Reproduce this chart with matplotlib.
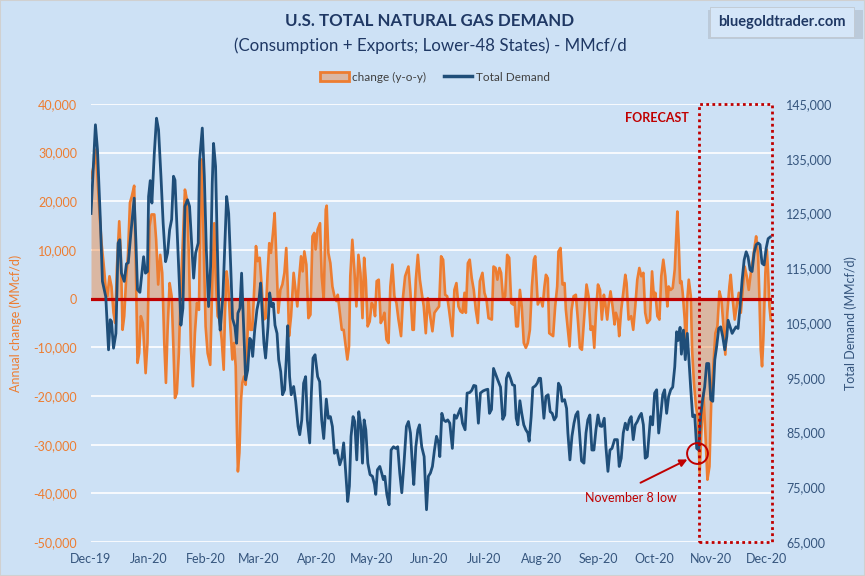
import matplotlib
matplotlib.use("Agg")
import matplotlib.pyplot as plt
from matplotlib.patches import Patch, Rectangle
from matplotlib.lines import Line2D
import pandas as pd

plt.rcParams['font.family'] = ['Lato', 'DejaVu Sans']

# days since 2019-12-01 and values (MMcf/d)
demand_day = [
    0, 2.4, 3.5, 5.0, 6.2, 8.0, 9.5, 10.4, 11.1, 12.2, 13.5, 14.7, 15.6, 16.5, 18.0, 19.2, 20.2, 21.6,
    23.4, 24.3, 25.2, 26.5, 28.5, 29.5, 30.6, 31.2, 32.1, 33.0, 34.3, 35.5, 36.6, 37.9, 39.1, 40.4,
    41.5, 42.6, 43.7, 44.7, 45.5, 46.5, 47.8, 48.7, 49.8, 50.9, 52.3, 53.4, 54.5, 55.6, 56.7, 58.1,
    58.8, 60.3, 61.4, 62.5, 63.7, 64.8, 65.7, 66.4, 67.5, 68.4, 69.3, 70.0, 71.5, 72.6, 73.5, 74.6,
    75.7, 76.7, 78.0, 78.9, 79.6, 80.7, 81.6, 82.5, 83.8, 84.9, 86.0, 86.7, 87.6, 88.7, 89.9, 91.0,
    91.9, 92.8, 93.7, 94.6, 95.9, 96.8, 97.9, 98.8, 99.7, 100.8, 101.7, 102.8, 103.8, 104.9, 105.8,
    106.6, 107.6, 108.5, 109.8, 110.9, 112.2, 113.1, 114.2, 115.2, 116.3, 117.2, 118.5, 119.4, 120.3,
    121.4, 122.8, 123.9, 125.0, 126.1, 127.5, 128.6, 129.7, 130.8, 131.9, 133.3, 134.8, 135.9, 136.9,
    138.0, 139.1, 140.0, 140.9, 142.0, 142.9, 144.0, 145.1, 146.2, 147.1, 148.0, 148.9, 150.0, 151.2,
    152.5, 153.6, 154.3, 155.2, 156.5, 157.5, 158.4, 159.2, 160.3, 161.5, 162.6, 163.9, 165.1, 166.2,
    167.3, 168.4, 169.6, 170.9, 172.0, 173.1, 174.2, 174.9, 176.0, 177.1, 178.0, 179.2, 180.5, 181.8,
    182.8, 183.9, 185.0, 186.1, 187.2, 188.3, 189.0, 190.1, 191.1, 192.2, 193.3, 194.4, 195.8, 196.9,
    198.0, 199.1, 200.2, 201.3, 202.7, 203.8, 205.2, 206.3, 207.4, 208.5, 209.9, 211.0, 212.5, 213.9,
    215.0, 215.9, 217.0, 218.1, 219.4, 220.4, 221.9, 223.1, 224.2, 225.1, 226.2, 227.3, 228.4, 229.5,
    230.4, 231.3, 232.4, 233.4, 234.5, 235.6, 236.7, 237.4, 238.5, 239.4, 240.7, 241.8, 242.8, 243.6,
    244.3, 245.4, 246.5, 247.7, 248.8, 249.9, 251.0, 252.1, 253.3, 254.4, 255.3, 256.6, 257.7, 258.4,
    259.5, 260.6, 261.7, 262.7, 263.8, 264.7, 265.8, 267.1, 268.2, 269.2, 270.3, 271.4, 272.5, 273.6,
    274.7, 275.8, 276.8, 278.1, 279.0, 280.1, 281.2, 282.3, 283.7, 285.2, 286.2, 287.3, 288.4, 289.5,
    290.6, 291.7, 292.7, 293.8, 294.9, 296.0, 297.1, 298.2, 299.3, 300.3, 301.4, 303.2, 304.3, 305.4,
    306.5, 307.6, 308.7, 309.8, 310.8, 311.9, 313.0, 314.1, 315.2, 316.3, 317.3, 318.1, 319.2, 319.9,
    321.0, 322.0, 323.1, 324.2, 324.9, 326.0, 327.1, 328.2, 329.3, 330.4, 331.4, 332.5, 333.6, 334.7,
    335.8, 336.9, 338.0, 339.0, 340.1, 341.2, 342.3, 343.4, 344.5, 345.2, 346.3, 347.4, 348.4, 349.5,
    350.6, 351.7, 352.8, 353.9, 355.0, 356.0, 357.1, 358.2, 359.3, 360.4, 361.5, 362.5, 363.6, 364.7,
    365.8, 366.9, 368.0]
demand_val = [
    125000, 141200, 136700, 124400, 112600, 109800, 100100, 105600, 105300, 100400, 103100, 119600,
    120200, 114100, 112600, 115800, 116000, 121400, 127800, 120200, 111100, 110600, 117100, 114100,
    114400, 128100, 131000, 126900, 136000, 142400, 140300, 131800, 123200, 116200, 117800, 122000,
    123900, 131800, 131100, 123200, 112800, 104600, 107700, 126300, 127500, 126300, 119600, 113200,
    117800, 119600,
    134500, 140600, 131800, 118300, 108000, 115300, 130500, 137800, 133600, 119600, 106800, 103700,
    110100, 120200, 128100, 125000, 115300, 105800, 104300, 101300, 106800, 107700, 114100, 106200,
    94600, 96400, 102200, 101900, 98900, 103700, 107400, 109200, 112300, 106800, 101300, 98600,
    104300, 110500, 108000, 108600, 104600, 103100, 98300, 96100, 91900, 92800, 98300, 104500,
    95200, 91900, 93400, 90700, 86100, 84600, 87300, 94000, 95200, 87300, 83100, 92200, 98600, 99200,
    95200, 94300, 87300, 83900, 91100, 87600, 87900, 86100, 81200, 81800, 79100, 80300, 83100, 77600,
    72400, 75200, 84300, 87900, 87000, 80000, 88800, 86100, 79400, 87300, 85500, 79400, 77300, 77000,
    75500, 73700, 78200, 78800, 77600, 76400, 77000, 73700, 71800, 81800, 82400, 82100, 82400, 77600,
    74000, 79400, 86100, 87000, 84900, 78800, 75500, 82400, 85500, 86400, 82400, 80600, 70900,
    77000, 77600, 78800, 81800, 84300, 83100, 80600, 88500, 87300, 87000, 87300, 86700, 82100, 88200,
    87600, 88500, 89400, 86700, 85500, 92200, 92300, 92700, 93600, 93500, 86700, 92200, 92600, 92800,
    92900, 88500, 89200, 96700, 95500, 94600, 93300, 87400, 88200, 94900, 95900, 94900, 93700, 93600,
    87600, 86400, 90800, 88500, 86400, 85500, 84900, 83400, 87900, 93200, 93500, 94000, 94900,
    94900, 92200, 87600, 91600, 91900, 88800, 88500, 87300, 87900, 94000, 93300, 90700, 91000, 89400,
    84900, 80000, 84300, 86700, 88200, 88800, 84900, 79800, 79400, 84900, 87300, 88200, 81800, 81800,
    85500, 88200, 86200, 86100, 87600, 82400, 77900, 81800, 82100, 83700, 83700, 78800, 80300, 84900,
    86700, 85500, 87300, 87900, 83700, 86400, 87000, 87900, 88500, 86400, 80300, 80600,
    87900, 86400, 92200, 92800, 84900, 88200, 91900, 92800, 88500, 91600, 92800, 93300, 97000, 103400,
    101800, 104200, 99300, 103700, 98300, 103100, 97000, 93300, 87900, 88200, 82100, 81800, 88200,
    91000, 93300, 97600, 97600, 91000, 90700, 98300, 100700, 104000, 104300, 102500, 100100, 102500,
    105500, 104300, 103100, 103700, 104300, 104000, 108000, 112800, 116500, 118000, 117100, 114700,
    114400, 117800, 119300, 119600, 119300, 115900, 115600, 118600, 120400, 120700]

change_day = [
    0, 1.4, 2.6, 3.5, 4.6, 5.7, 6.8, 7.9, 8.9, 10.0, 11.1, 12.2, 13.1, 14.0, 15.3, 16.2, 17.1, 18.0,
    19.1, 20.0, 21.1, 22.1, 23.4, 24.3, 25.2, 26.1, 27.0, 28.1, 28.8, 29.6, 30.6, 31.7, 32.8, 34.3,
    35.3, 36.4, 37.5, 38.6, 39.7, 40.6, 41.5, 42.6, 43.7, 44.7, 45.5, 46.5, 47.6, 48.7, 49.8, 50.9,
    52.0, 53.1, 54.1, 55.2, 56.3, 57.4, 58.5, 59.2,
    59.9, 61.0, 62.1, 63.2, 64.6, 65.7, 66.8, 67.5, 68.6, 69.7, 70.8, 71.9, 72.6, 73.5, 74.4, 75.5,
    76.6, 77.5, 78.4, 79.1, 79.6, 80.4, 81.3, 82.0, 82.9, 83.8, 84.5, 85.4, 86.3, 87.4, 88.5, 89.4,
    90.3, 91.4, 92.5, 93.5, 94.6, 95.7, 96.6, 97.5, 98.6, 99.5, 100.4, 101.5, 102.6, 103.7, 104.8,
    105.8, 106.6, 107.3, 108.4, 109.8, 110.9, 111.8, 112.7, 113.8, 114.7, 115.6, 116.7, 117.8, 118.9,
    120.0, 121.0,
    121.7, 122.8, 124.1, 125.0, 126.1, 127.2, 127.7, 128.6, 129.7, 130.8, 131.9, 133.0, 133.7, 134.8,
    135.9, 136.9, 138.0, 138.9, 139.8, 140.5, 141.6, 142.7, 143.8, 144.9, 146.0, 147.1, 148.0, 148.9,
    149.9, 151.0, 152.1, 153.2, 153.9, 154.8, 155.9, 157.0, 157.9, 159.0, 160.1, 161.2, 162.2, 163.3,
    164.4, 165.5, 166.6, 168.0, 169.1, 170.2, 172.0, 173.1, 174.2, 174.9, 176.0, 177.1, 178.2, 179.2,
    180.3, 181.4,
    182.5, 183.5, 185.0, 186.1, 187.2, 188.6, 189.7, 190.8, 191.9, 193.0, 194.0, 195.1, 195.8, 196.9,
    198.0, 199.1, 200.2, 201.3, 202.4, 203.1, 204.2, 205.2, 206.3, 207.4, 208.5, 209.6, 210.7, 212.1,
    213.2, 214.3, 215.4, 217.2, 218.1, 219.2, 220.2, 221.3, 222.2, 223.3, 224.4, 225.5, 226.6, 227.7,
    228.7, 229.5, 230.4, 231.3, 232.4, 233.4, 234.5, 235.6, 236.7, 237.8, 238.9, 240.0, 240.7,
    242.1, 243.6, 244.7, 245.7, 246.5, 247.5, 248.3, 249.4, 250.4, 251.5, 252.6, 253.3, 254.4, 255.5,
    256.6, 257.3, 258.4, 259.3, 260.4, 261.5, 262.7, 263.8, 264.9, 266.0, 267.4, 268.5, 269.6, 270.7,
    271.8, 272.7, 273.6, 274.7, 275.8, 276.8, 277.9, 278.6, 279.7, 280.5, 281.5, 282.6, 283.7, 284.4,
    285.5, 286.2, 287.3, 288.4, 289.5, 290.2, 291.3, 292.7, 293.8, 294.9, 296.0, 297.1, 298.2, 299.3,
    300.3, 301.4,
    302.9, 304.0, 305.1, 305.8, 306.9, 308.0, 309.0, 310.1, 311.2, 312.3, 313.0, 314.1, 315.2, 316.3,
    317.0, 317.7, 318.4, 319.2, 319.9, 320.6, 321.7, 322.4, 323.1, 323.9, 325.0, 325.7, 326.7, 327.8,
    328.9, 329.8, 330.7, 331.8, 332.9, 334.0, 335.1, 336.1, 337.2, 338.3, 339.4, 340.5, 341.6, 342.7,
    343.7, 344.8, 345.9, 346.6, 347.7, 348.8, 349.9, 351.0, 352.1, 353.1, 354.2, 355.3, 356.4, 357.5,
    358.6, 359.6, 360.4, 361.5, 362.2, 362.9, 363.6, 364.3, 365.4, 366.2, 366.9, 367.6, 368.3]
change_val = [
    24800, 27200, 30600, 25100, 17600, 11400, 7300, 2500, 500, 4600, 2500, -2900, -5000, 6000, 15900,
    8700, -6400, -3600, 4600, 8700, 19700, 21000, 23200, 6600, -13200, -11200, -3600, -5000, -9800,
    -15300, -9100, 14900, 17300, 17300, 12100, 2900, 9000, 5300, -9100, -17300, -6400, 3200, 500,
    -10500, -20400, -19400, -11200, 2500, 12100, 22400, 20300, 8000, -9800, -18000, -7100, -900,
    -2300, 17600,
    28600, 12100, -5700, -11200, -13600, 3200, 15500, 5300, -3600, -4300, -8400, -14600, -2900, 5600,
    2500, -5700, -12500, -9100, -13900, -27600, -35500, -31700, -20800, -17300, -16000, -17700,
    -11200, -200, -6400, -6400, 2500, 10800, 7700, 8400, 2500, -4300, -4000, 5300, 11400, 9400, 13500,
    17600, 8700, -2900, 1800, 2900, 5300, 10400, 2500, -7700, -3600, 5300, 1500, -1600, 3900, 8700,
    5600, 9700, 7000, -4000, -3300, 12800, 13500,
    10100, 14200, 15500, 4600, -200, 18300, 19100, 9400, 7300, 2500, 500, -500, 800, -2900, -6400,
    -6400, -9800, -12500, -9800, 4600, 12100, 6000, -1600, 9000, 5300, -4000, 8400, 3900, -5700,
    -4700, -900, -1600, -3600, 3600, 3900, -5000, -4300, -2900, -8400, -9100, 2500, 7000, 500, -900,
    -4300, -7700, 500, 4600, 6600, 1200, -6400, -6400, 3900, 9000, 3900, 1200, -1600, -7100,
    100, -2900, -6700, -2900, -2300, -1600, 8700, 8000, 800, 500, -2300, -5700, -7700, 1800, 3200,
    -1600, -2600, -2900, 1200, -2900, 7300, 8000, 4200, 1800, -2300, -5000, 3600, 5300, 1200, -200,
    -4000, -4300, 6600, 6300, 3900, 6300, 5300, -200, 500, 9000, 8400, -900, -1200, -200, -5700,
    -5700, 1800, -1600, -9100, -10100, -9100, -6400, 2500, 8000, 8700,
    -1200, 100, -1600, 2500, 4900, 4200, -7100, -7400, -7700, -1600, 2500, 9700, 10400, 2900, 3200,
    -2300, -6400, -9800, -2300, 500, 800, -4300, -10100, -10500, -2900, 2900, 500, -6400, -5700,
    -10100, -2900, 2900, 1800, -4300, 800, -900, -4300, -1200, 1500, -1600, -5300, -2900, -4300,
    -7700, -2300, 1200, 4900, 3200, -4300, -3600, -6400, -1600, 3900, 6300, 4600, 5300, -2900, -5000,
    -4300, 5600, -200, 1200, -3600, -4300, 4600, 8000, 4600, -1600, 2500, 1800, 2200, 6000, 12100,
    17900, 12100, 3200, 3600, 1200, -4300, -11200, -200, 3900, 500, -10500, -17300, -22100, -24900,
    -35800, -27600, -19400, -27600, -37200, -34500, -20800, -13900, -7100, -5700, 1500, -200, -5700,
    -11500, -2900, 2500, 4900, -200, -4300, -1600, 1200, -2900, 1800, 6600, 4600, 1800, 5300, 8000,
    10800, 12800, 8700, -200, -10500, -13900, -8400, 5300, 10100, 5300, -1600, -4300]

month_starts = pd.date_range('2019-12-01', '2020-12-01', freq='MS')
start = pd.Timestamp('2019-12-01')
month_pos = [(d - start).days for d in month_starts]
month_labels = [d.strftime('%b-%y') for d in month_starts]

forecast_start = 329.4
low_day, low_val = 328.4, 81300

BG = '#cde1f5'
ORANGE = '#ed7d31'
NAVY = '#1f4e79'
RED = '#c00000'
TICK_BLUE = '#35557d'

fig = plt.figure(figsize=(8.65, 5.76), dpi=100, facecolor=BG)
ax = fig.add_axes([0.1052, 0.059, 0.7873, 0.7605])
ax.set_facecolor(BG)
ax2 = ax.twinx()

# y-o-y change (left axis)
ax.fill_between(change_day, 0, change_val, color=ORANGE, alpha=0.42, lw=0, zorder=2)
ax.plot(change_day, change_val, color=ORANGE, lw=1.9, zorder=3)
ax.axhline(0, color=RED, lw=2.3, zorder=4)
ax.set_ylim(-50000, 40000)
ax.set_yticks(range(-50000, 40001, 10000))
ax.yaxis.set_major_formatter(matplotlib.ticker.FuncFormatter(lambda v, p: f'{int(v):,}'))
ax.grid(axis='y', color='white', lw=1.2, zorder=0)
ax.set_axisbelow(True)
ax.set_xlim(0, 369)
ax.set_xticks(month_pos)
ax.set_xticklabels(month_labels)
ax.tick_params(axis='x', colors=TICK_BLUE, labelsize=9, length=0, pad=8)
ax.tick_params(axis='y', colors=ORANGE, labelsize=9, length=0, pad=10)
ax.set_ylabel('Annual change (MMcf/d)', color=ORANGE, fontsize=9)
ax.yaxis.set_label_coords(-0.101, 0.5)

# total demand (right axis)
ax2.plot(demand_day, demand_val, color=NAVY, lw=2.0, zorder=3)
ax2.set_ylim(65000, 145000)
ax2.set_yticks(range(65000, 145001, 10000))
ax2.yaxis.set_major_formatter(matplotlib.ticker.FuncFormatter(lambda v, p: f'{int(v):,}'))
ax2.tick_params(axis='y', colors=TICK_BLUE, labelsize=9, length=0, pad=10)
ax2.set_ylabel('Total Demand (MMcf/d)', color=TICK_BLUE, fontsize=9)
ax2.yaxis.set_label_coords(1.107, 0.5)

for a in (ax, ax2):
    for s in a.spines.values():
        s.set_visible(False)

# forecast box
ax2.add_patch(Rectangle((forecast_start, 65000), 369 - forecast_start, 80000, fill=False,
                        ec=RED, lw=2.0, ls=(0, (1, 1.2)), zorder=6, clip_on=False))
ax2.text(306.7, 142500, 'FORECAST', color=RED, fontsize=9, fontweight='bold',
         ha='center', va='center', zorder=6)

# November 8 low
ax2.plot(low_day, low_val, marker='o', ms=15, mfc='none', mec=RED, mew=1.4, zorder=7)
ax2.annotate('', xy=(324.5, 80300), xytext=(296.4, 75600),
             arrowprops=dict(arrowstyle='-|>', color=RED, lw=1.4, mutation_scale=11), zorder=7)
ax2.text(292.6, 73000, 'November 8 low', color=RED, fontsize=9, ha='center', va='center', zorder=7)

# titles
fig.text(0.497, 1 - 21 / 576, 'U.S. TOTAL NATURAL GAS DEMAND', ha='center', va='center',
         fontsize=12.2, fontweight='bold', color='#1f3864')
fig.text(0.497, 1 - 46 / 576, '(Consumption + Exports; Lower-48 States) - MMcf/d', ha='center',
         va='center', fontsize=12.2, color='#1f3864')

handles = [Patch(facecolor='#dab7a3', edgecolor=ORANGE, lw=2),
           Line2D([0], [0], color=NAVY, lw=2.5)]
leg = fig.legend(handles, ['change (y-o-y)', 'Total Demand'], loc='center',
                 bbox_to_anchor=(0.503, 1 - 77 / 576), ncol=2, frameon=False, fontsize=8.5,
                 handlelength=2.4, handleheight=0.9, columnspacing=1.5, handletextpad=0.3)
for t in leg.get_texts():
    t.set_color('#404040')

# watermark box
fig.patches.append(Rectangle((708 / 865, 1 - 39 / 576), 155 / 865, 29 / 576,
                             transform=fig.transFigure, fc='#aab4c0', ec='none', alpha=0.5))
fig.text(782 / 865, 1 - 22 / 576, 'bluegoldtrader.com', ha='center', va='center', fontsize=10.5,
         fontweight='bold', color='#1f3864',
         bbox=dict(boxstyle='square,pad=0.55', fc='#d5e6f8', ec='#c0c8d0', lw=0.6))

fig.patches.append(Rectangle((0, 0), 1, 1, transform=fig.transFigure, fill=False,
                             ec='#d0d0d0', lw=1.5))

fig.savefig('out.png', dpi=100, facecolor=BG)
